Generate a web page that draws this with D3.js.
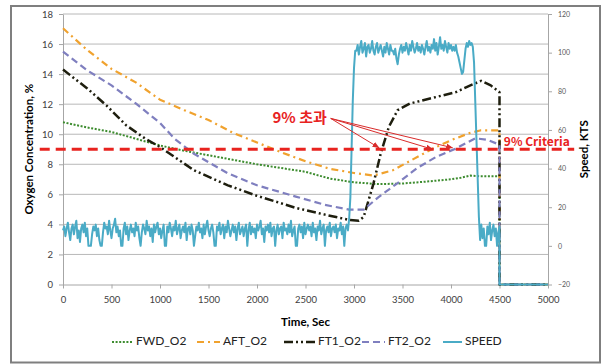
<!DOCTYPE html>
<html><head><meta charset="utf-8">
<script src="https://cdn.jsdelivr.net/npm/d3@7/dist/d3.min.js"></script>
<style>body{margin:0;background:#fff}svg{display:block}</style>
</head><body>
<svg id="c" width="604" height="364"></svg>
<script>
// ---------- DATA ----------
const xTicks = [0,500,1000,1500,2000,2500,3000,3500,4000,4500,5000];
const leftTicks = [0,2,4,6,8,10,12,14,16,18];
const rightTicks = [-20,0,20,40,60,80,100,120];

const fwdTime = [0,250,500,750,1000,1250,1500,1750,2000,2250,2500,2750,3000,3250,3500,3750,4000,4100,4200,4300,4500,4500,5000];
const fwdVal  = [10.8,10.45,10.15,9.7,9.25,8.9,8.6,8.3,8.0,7.75,7.5,7.05,6.8,6.68,6.72,6.85,7.0,7.1,7.25,7.2,7.2,0,0];

const aftTime = [0,250,500,750,1000,1250,1500,1750,2000,2250,2500,2750,3000,3200,3400,3600,3800,4000,4200,4300,4500,4500,5000];
const aftVal  = [17.05,15.6,14.35,13.45,12.3,11.6,10.95,10.1,9.45,8.8,8.2,7.7,7.42,7.25,7.6,8.3,9.0,9.6,10.1,10.25,10.25,0,0];

const ft1Time = [0,250,450,650,850,1000,1350,1700,2000,2400,2700,2950,3050,3100,3200,3275,3360,3450,3580,3800,4050,4200,4310,4410,4500,4500,5000];
const ft1Val  = [14.3,13.05,11.9,10.6,9.7,9.15,7.6,6.6,5.9,5.1,4.65,4.3,4.25,4.5,6.7,8.7,10.5,11.6,12.05,12.4,12.8,13.25,13.55,13.25,12.8,0,0];

const ft2Time = [0,250,500,750,1000,1150,1350,1700,2000,2400,2700,2950,3100,3250,3450,3650,3850,4050,4250,4380,4500,4500,5000];
const ft2Val  = [15.5,14.25,13.25,12.05,10.75,9.7,8.7,7.4,6.6,5.85,5.3,4.98,4.98,5.8,6.75,7.75,8.5,9.05,9.73,9.62,9.3,0,0];

// speed sampled every 12.5 s from 0 to 4500 s (right axis, KTS)
const speedStep = 12.5;
const speedLow1 = [
  8,10,5,9,12,7,3,9,11,6,
  10,13,4,8,2,9,11,7,12,5,
  9,0,0,0,6,10,8,11,5,9,
  3,0,0,7,12,9,10,6,13,8,
  4,9,11,14,7,10,5,8,0,0,
  9,12,6,10,3,8,11,7,9,5,
  12,8,10,4,0,7,11,9,6,13,
  8,10,5,9,2,11,7,10,12,6,
  9,4,8,11,0,0,10,7,12,9,
  5,10,8,13,6,9,11,4,8,10,
  7,12,3,9,10,6,11,8,0,5,
  10,8,12,7,9,4,11,6,10,13,
  8,5,9,11,7,0,0,10,8,12,
  6,9,11,4,10,7,13,9,5,8,
  11,7,10,3,9,12,6,8,10,5,
  9,11,0,8,12,6,10,7,9,4,
  11,8,10,13,6,9,2,10,8,11,
  7,12,5,9,10,0,8,11,6,9,
  10,4,12,8,9,6,11,7,13,5,
  8,10,0,0,9,11,7,10,4,12,
  6,9,11,8,10,5,12,7,9,3,
  10,8,13,6,9,11,0,8,10,7,
  12,5,9,10,7,11,4,9,8,12,
  6,10,0,9,11,8,14
];
const speedRise = [25,50,75,92,101];
const speedHigh = [
  101,104,99,103,106,100,102,105,98,103,
  104,100,102,106,101,99,103,105,100,102,
  104,101,98,103,100,105,102,99,104,101,
  101,99,102,97,94,99,102,104,100,103,
  101,105,102,99,104,101,106,103,100,102,
  105,101,103,100,104,102,99,103,106,101,
  103,100,104,102,107,101,105,99,103,108,
  102,104,101,106,103,100,105,102,104,101,
  103,101,104,100,98,95,92,89,90,96,
  102,105,103,106,104,105,103
];
const speedDrop = [95,75,55,35,15,3];
const speedLow2 = [11,4,9,0,0,10,6,12,3,8,11,5,9,0,7,10];
const speedTailTime = [4500,5000];
const speedTailVal = [-20,-20];

const criteriaVal = 9;
const criteriaSpan = [-240,5270];
const calloutText = "9% 초과";
const calloutAt = [2440,11.0];
const arrowFrom = [2760,11.05];
const arrowTargets = [[3257,9.1],[3809,9.0],[4015,9.1]];
const criteriaLabel = "9% Criteria";
const criteriaLabelAt = [4545,9.2];

const legendNames = ["FWD_O2","AFT_O2","FT1_O2","FT2_O2","SPEED"];

// ---------- CHART ----------
const svg = d3.select("#c");
const L=63, R=548, T=14, B=284.5;
const x = d3.scaleLinear().domain([0,5000]).range([L,R]);
const yL = d3.scaleLinear().domain([0,18]).range([B,T]);
const yR = d3.scaleLinear().domain([-20,120]).range([B,T]);

svg.append("rect").attr("x",11).attr("y",6).attr("width",589).attr("height",356.5)
  .attr("fill","#fff").attr("stroke","#7f7f7f").attr("stroke-width",2);

// gridlines
svg.append("g").selectAll("line").data(leftTicks.filter(d=>d>0)).join("line")
  .attr("x1",L).attr("x2",R).attr("y1",d=>yL(d)).attr("y2",d=>yL(d))
  .attr("stroke","#b8b8b8").attr("stroke-width",1);

const font = "Lato, 'Open Sans', sans-serif";
function styleAxis(g,size,color){
  g.select(".domain").attr("stroke","#a6a6a6");
  g.selectAll(".tick line").attr("stroke","#a6a6a6");
  g.selectAll(".tick text").attr("font-family",font).attr("font-size",size).attr("fill",color);
}
const gx = svg.append("g").attr("transform",`translate(0,${B})`)
  .call(d3.axisBottom(x).tickValues(xTicks).tickFormat(d3.format("d")).tickSize(4).tickSizeOuter(0).tickPadding(8));
styleAxis(gx,"9.5px","#404040");
const gl = svg.append("g").attr("transform",`translate(${L},0)`)
  .call(d3.axisLeft(yL).tickValues(leftTicks).tickSize(4).tickSizeOuter(0).tickPadding(6));
styleAxis(gl,"9.5px","#404040");
const gr = svg.append("g").attr("transform",`translate(${R},0)`)
  .call(d3.axisRight(yR).tickValues(rightTicks).tickSize(4).tickSizeOuter(0).tickPadding(6));
styleAxis(gr,"7px","#595959");

// titles
svg.append("text").attr("transform",`translate(30,${(T+B)/2}) rotate(-90)`)
  .attr("text-anchor","middle").attr("dominant-baseline","middle")
  .attr("font-family",font).attr("font-weight","bold").attr("font-size","11.5px").text("Oxygen Concentration, %");
svg.append("text").attr("transform",`translate(585,${(T+B)/2}) rotate(-90)`)
  .attr("text-anchor","middle").attr("dominant-baseline","middle")
  .attr("font-family",font).attr("font-weight","bold").attr("font-size","11.5px").text("Speed, KTS");
svg.append("text").attr("x",(L+R)/2).attr("y",323).attr("text-anchor","middle").attr("dominant-baseline","middle")
  .attr("font-family",font).attr("font-weight","bold").attr("font-size","11.5px").text("Time, Sec");

// series
const series = [
  {name:"FWD_O2", t:fwdTime, v:fwdVal, color:"#3d8c2f", dash:"2,1.6", w:2, y:yL},
  {name:"AFT_O2", t:aftTime, v:aftVal, color:"#f0a22e", dash:"7,4,2,4", w:2.2, y:yL},
  {name:"FT1_O2", t:ft1Time, v:ft1Val, color:"#1e1e0e", dash:"9,3,2,3,2,3", w:2.5, y:yL},
  {name:"FT2_O2", t:ft2Time, v:ft2Val, color:"#7f7fbf", dash:"7,4", w:2.2, y:yL},
];
const speedSampled = speedLow1.concat(speedRise, speedHigh, speedDrop, speedLow2);
const speedT = speedSampled.map((d,i)=>i*speedStep).concat(speedTailTime);
const speedV = speedSampled.concat(speedTailVal);
series.push({name:"SPEED", t:speedT, v:speedV, color:"#4aabc6", dash:null, w:2, y:yR});

series.forEach(s=>{
  const line = d3.line().x((d,i)=>x(s.t[i])).y(d=>s.y(d));
  svg.append("path").attr("d",line(s.v)).attr("fill","none")
    .attr("stroke",s.color).attr("stroke-width",s.w)
    .attr("stroke-dasharray",s.dash).attr("stroke-linejoin","round");
});

// criteria line
svg.append("line").attr("x1",x(criteriaSpan[0])).attr("x2",x(criteriaSpan[1]))
  .attr("y1",yL(criteriaVal)).attr("y2",yL(criteriaVal))
  .attr("stroke","#e8231f").attr("stroke-width",3).attr("stroke-dasharray","10,6");

svg.append("text").attr("x",x(criteriaLabelAt[0])).attr("y",yL(criteriaLabelAt[1]))
  .attr("font-family","'Noto Sans CJK KR', sans-serif").attr("font-weight","bold").attr("font-size","12px")
  .attr("fill","#e8231f").text(criteriaLabel);

svg.append("text").attr("x",x(calloutAt[0])).attr("y",yL(calloutAt[1])).attr("text-anchor","middle")
  .attr("dominant-baseline","middle")
  .attr("font-family","'Noto Sans CJK KR', sans-serif").attr("font-weight","bold").attr("font-size","15px")
  .attr("fill","#e8231f").text(calloutText);

svg.append("defs").append("marker").attr("id","ah").attr("viewBox","0 0 10 10")
  .attr("refX",9).attr("refY",5).attr("markerWidth",7).attr("markerHeight",7).attr("orient","auto")
  .append("path").attr("d","M0,1 L10,5 L0,9 Z").attr("fill","#d92b2b");
svg.append("g").selectAll("line").data(arrowTargets).join("line")
  .attr("x1",x(arrowFrom[0])).attr("y1",yL(arrowFrom[1]))
  .attr("x2",d=>x(d[0])).attr("y2",d=>yL(d[1]))
  .attr("stroke","#d92b2b").attr("stroke-width",1).attr("marker-end","url(#ah)");

// legend
const legX = [112,197,284,362,443];
const legTextX = [136,223,318,388,465];
const lg = svg.append("g");
series.forEach((s,i)=>{
  lg.append("line").attr("x1",legX[i]).attr("x2",legTextX[i]-3).attr("y1",342).attr("y2",342)
    .attr("stroke",s.color).attr("stroke-width",s.w).attr("stroke-dasharray",s.dash);
  lg.append("text").attr("x",legTextX[i]).attr("y",342).attr("dominant-baseline","middle")
    .attr("font-family",font).attr("font-size","12px").attr("fill","#222").text(legendNames[i]);
});
</script>
</body></html>
